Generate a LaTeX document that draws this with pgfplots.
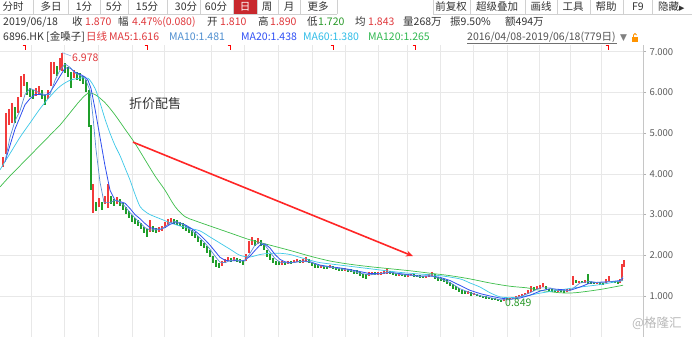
\documentclass[border=0pt]{standalone}
\usepackage{pgfplots}
\pgfplotsset{compat=1.18}
\usepackage{pgfplotstable}
\usetikzlibrary{arrows.meta}
\usepackage{fontspec}
\setmainfont{Noto Sans CJK SC}
\newfontfamily\dejavu{DejaVu Sans}
\definecolor{upred}{HTML}{F23B3B}
\definecolor{dngreen}{HTML}{1F9E2A}
\definecolor{valred}{HTML}{E0383C}
\definecolor{valgreen}{HTML}{2A9A2A}
\definecolor{ma10c}{HTML}{5B8FD6}
\definecolor{ma20c}{HTML}{2F4FF0}
\definecolor{ma60c}{HTML}{3CC8E8}
\definecolor{ma120c}{HTML}{3DBE4A}
\definecolor{ma10t}{HTML}{4F8FD0}
\definecolor{ma20t}{HTML}{3050F5}
\definecolor{ma60t}{HTML}{30BDE8}
\definecolor{ma120t}{HTML}{30B850}
\definecolor{txt}{HTML}{333333}
\definecolor{gridc}{HTML}{E8E8E8}
\definecolor{sepc}{HTML}{D0D0D0}
\definecolor{btnred}{HTML}{C8282D}
\def\hf{\fontsize{10.5bp}{12bp}\selectfont}
\newcommand\hdr[4]{\node[anchor=base west,inner sep=0pt,text=#3,font=\hf] at (#1bp,#2bp) {#4};}
\pgfdeclareplotmark{corner}{\pgfpathmoveto{\pgfqpoint{-2.5bp}{2bp}}\pgfpathlineto{\pgfqpoint{0.5bp}{2bp}}\pgfpathlineto{\pgfqpoint{0.5bp}{-2.5bp}}\pgfusepathqstroke}

\pgfplotstableread{
x c e
3 4.3 0.12
6 5.0 0.5
9 5.4 0.2
12 5.5 0.25
18 5.7 0.2
21 6.15 0.25
24 6.3 0.15
36 6.02 0.1
39 6.05 0.1
48 5.95 0.12
51 6.45 0.3
54 6.6 0.15
60 6.7 0.15
62 6.75 0.23
74 6.45 0.1
93 3.4 0.35
99 3.3 0.12
105 3.35 0.1
108 3.45 0.3
117 3.35 0.08
150 2.72 0.15
159 2.63 0.06
162 2.66 0.06
165 2.74 0.07
168 2.82 0.07
171 2.85 0.06
222 1.8 0.06
225 1.86 0.06
228 1.9 0.05
234 1.9 0.05
246 1.95 0.08
249 2.2 0.15
252 2.35 0.1
258 2.35 0.07
282 1.82 0.05
288 1.83 0.04
294 1.85 0.04
297 1.87 0.04
303 1.86 0.04
306 1.9 0.06
321 1.72 0.04
330 1.72 0.04
345 1.65 0.04
369 1.55 0.05
372 1.56 0.04
378 1.55 0.04
381 1.56 0.04
384 1.58 0.04
387 1.62 0.08
399 1.53 0.04
408 1.5 0.03
411 1.52 0.03
426 1.47 0.03
429 1.5 0.04
432 1.54 0.05
468 1.08 0.04
474 1.05 0.03
504 0.9 0.03
507 0.92 0.03
510 0.93 0.03
513 0.95 0.03
516 0.97 0.03
519 1.0 0.03
522 1.03 0.03
525 1.05 0.03
528 1.1 0.04
531 1.18 0.07
537 1.2 0.04
540 1.22 0.04
543 1.27 0.05
558 1.12 0.03
567 1.13 0.03
570 1.15 0.03
573 1.38 0.12
579 1.35 0.03
585 1.36 0.03
597 1.32 0.03
606 1.38 0.05
609 1.42 0.06
620 1.38 0.05
622 1.58 0.2
624 1.8 0.085
}\redtab

\pgfplotstableread{
x c e
15 5.45 0.2
27 6.1 0.15
30 6.0 0.12
33 5.95 0.12
42 5.95 0.1
45 5.82 0.12
57 6.52 0.12
65 6.6 0.12
68 6.5 0.12
71 6.3 0.2
77 6.4 0.1
80 6.38 0.1
83 6.3 0.1
86 6.15 0.15
89 5.6 0.45
91 4.4 0.8
96 3.2 0.12
102 3.22 0.1
111 3.35 0.1
114 3.3 0.08
120 3.3 0.08
123 3.2 0.08
126 3.1 0.08
129 3.0 0.08
132 2.9 0.08
135 2.85 0.07
138 2.8 0.07
141 2.72 0.07
144 2.62 0.08
147 2.55 0.1
153 2.65 0.07
156 2.62 0.06
174 2.82 0.06
177 2.8 0.06
180 2.77 0.06
183 2.72 0.07
186 2.67 0.07
189 2.62 0.07
192 2.55 0.08
195 2.5 0.07
198 2.4 0.08
201 2.3 0.08
204 2.24 0.07
207 2.14 0.08
210 2.04 0.08
213 1.9 0.09
216 1.8 0.08
219 1.75 0.07
231 1.88 0.05
237 1.88 0.05
240 1.85 0.05
243 1.82 0.05
255 2.3 0.08
261 2.3 0.07
264 2.2 0.08
267 2.05 0.08
270 1.95 0.07
273 1.88 0.06
276 1.82 0.05
279 1.8 0.05
285 1.8 0.04
291 1.82 0.04
300 1.85 0.04
309 1.85 0.05
312 1.78 0.05
315 1.75 0.05
318 1.72 0.04
324 1.7 0.04
327 1.7 0.04
333 1.7 0.04
336 1.68 0.04
339 1.66 0.04
342 1.65 0.04
348 1.63 0.04
351 1.62 0.04
354 1.6 0.05
357 1.58 0.05
360 1.55 0.05
363 1.5 0.05
366 1.48 0.05
375 1.55 0.04
390 1.57 0.04
393 1.55 0.04
396 1.52 0.04
402 1.52 0.03
405 1.5 0.03
414 1.5 0.03
417 1.49 0.03
420 1.48 0.03
423 1.47 0.03
435 1.48 0.05
438 1.42 0.05
441 1.4 0.04
444 1.38 0.04
447 1.35 0.05
450 1.3 0.05
453 1.24 0.06
456 1.2 0.05
459 1.14 0.05
462 1.1 0.04
465 1.08 0.04
471 1.05 0.04
477 1.02 0.03
480 1.0 0.03
483 0.98 0.03
486 0.96 0.03
489 0.95 0.03
492 0.93 0.03
495 0.92 0.03
498 0.9 0.03
501 0.88 0.03
534 1.17 0.04
546 1.2 0.04
549 1.15 0.03
552 1.14 0.03
555 1.12 0.03
561 1.12 0.03
564 1.11 0.03
576 1.35 0.04
582 1.34 0.03
588 1.42 0.12
591 1.33 0.03
594 1.32 0.03
600 1.31 0.03
603 1.3 0.03
612 1.35 0.03
615 1.34 0.03
618 1.32 0.03
}\greentab

\begin{document}
\begin{tikzpicture}
\fill[white] (0,0) rectangle (692bp,337bp);
\begin{axis}[
  at={(0,0)}, anchor=south west,
  scale only axis, width=643bp, height=292bp,
  xmin=0, xmax=643, ymin=-0.007, ymax=7.167,
  axis line style={draw=none},
  xtick={31,64,98,132,164,211,244,278,312,345,378,407,440,473,507,539,570,601},
  xticklabels={}, xtick style={draw=none},
  ytick={1,2,3,4,5,6,7}, ytick pos=right, yticklabel pos=right,
  yticklabel style={font=\fontsize{9.5bp}{11bp}\selectfont, text=txt!80, xshift=0bp,
    /pgf/number format/.cd, fixed, fixed zerofill, precision=3, assume math mode=true},
  ytick style={draw=gray!60, line width=0.6bp},
  tick align=outside, major tick length=3bp,
  grid=major, grid style={gridc, line width=0.6bp},
]
% candles
\addplot[draw=none, mark=none, forget plot, error bars/.cd, y dir=both, y explicit, error mark=none,
  error bar style={upred, line width=1.5bp}] table[x=x, y=c, y error=e] {\redtab};
\addplot[draw=none, mark=none, forget plot, error bars/.cd, y dir=both, y explicit, error mark=none,
  error bar style={dngreen, line width=1.5bp}] table[x=x, y=c, y error=e] {\greentab};
% MA120
\addplot[ma120c, line width=0.7bp, smooth, mark=none] coordinates {
(0,3.68)(10,3.95)(20,4.2)(30,4.45)(40,4.7)(50,4.95)(60,5.2)(70,5.5)(80,5.8)(88,5.98)(95,5.95)
(105,5.75)(115,5.45)(125,5.1)(135,4.75)(145,4.35)(155,3.95)(165,3.6)(175,3.2)(185,2.95)(195,2.85)
(210,2.72)(230,2.55)(250,2.38)(270,2.25)(290,2.12)(310,1.98)(330,1.86)(350,1.78)(370,1.72)(390,1.67)
(410,1.62)(430,1.56)(450,1.5)(470,1.42)(490,1.32)(510,1.24)(527,1.2)(540,1.14)(560,1.08)(575,1.08)
(600,1.16)(623,1.265)};
% MA60
\addplot[ma60c, line width=0.7bp, smooth, mark=none] coordinates {
(0,4.1)(10,4.5)(20,4.9)(30,5.25)(40,5.6)(50,5.9)(60,6.15)(70,6.3)(80,6.35)(88,6.35)(95,6.1)
(100,5.75)(105,5.35)(110,5.0)(115,4.7)(120,4.45)(125,4.15)(130,3.85)(135,3.5)(140,3.2)(145,3.08)
(150,3.0)(160,2.9)(170,2.8)(180,2.72)(190,2.66)(200,2.6)(210,2.45)(220,2.3)(230,2.15)(240,2.0)
(250,1.96)(260,2.02)(270,2.05)(280,2.05)(290,2.02)(300,1.95)(310,1.88)(320,1.82)(340,1.76)(360,1.7)
(380,1.64)(400,1.58)(420,1.54)(440,1.5)(460,1.42)(470,1.32)(480,1.22)(490,1.08)(500,0.98)(510,0.96)
(520,0.98)(530,1.02)(540,1.07)(560,1.15)(580,1.22)(600,1.28)(623,1.38)};
% MA20
\addplot[ma20c, line width=0.8bp, mark=none] coordinates {
(5,4.3)(10,4.7)(15,5.1)(20,5.4)(25,5.7)(30,5.85)(35,5.95)(40,5.95)(45,5.93)(50,6.0)(55,6.2)(60,6.4)
(65,6.6)(70,6.6)(75,6.5)(80,6.45)(85,6.38)(88,6.3)(91,6.1)(95,5.6)(100,4.9)(105,4.2)(110,3.6)(115,3.35)
(120,3.32)(125,3.28)(130,3.15)(135,3.0)(140,2.9)(145,2.78)(150,2.68)(155,2.65)(160,2.64)(165,2.68)
(170,2.76)(175,2.8)(180,2.79)(185,2.75)(190,2.68)(195,2.6)(200,2.5)(205,2.38)(210,2.25)(215,2.1)
(220,1.95)(225,1.88)(230,1.86)(235,1.87)(240,1.86)(245,1.88)(250,1.98)(255,2.12)(260,2.25)(265,2.28)
(270,2.18)(275,2.02)(280,1.9)(285,1.84)(290,1.82)(295,1.83)(300,1.85)(305,1.86)(310,1.84)(315,1.8)
(320,1.76)(330,1.72)(340,1.69)(350,1.65)(360,1.6)(370,1.55)(380,1.55)(390,1.58)(400,1.55)(410,1.52)
(420,1.49)(430,1.49)(440,1.46)(450,1.38)(460,1.26)(470,1.14)(480,1.06)(490,1.0)(500,0.95)(510,0.92)
(520,0.95)(530,1.02)(540,1.12)(550,1.18)(560,1.16)(570,1.14)(580,1.22)(590,1.32)(600,1.34)(610,1.35)
(620,1.38)(623,1.438)};
% MA10
\addplot[ma10c, line width=0.7bp, mark=none] coordinates {
(5,4.3)(10,4.9)(15,5.3)(20,5.55)(25,5.95)(30,6.1)(35,6.05)(40,5.98)(45,5.95)(50,5.95)(55,6.3)(60,6.55)
(65,6.7)(70,6.62)(75,6.48)(80,6.42)(85,6.35)(90,6.05)(93,5.4)(96,4.6)(100,3.8)(104,3.3)(110,3.3)
(115,3.35)(120,3.32)(125,3.2)(130,3.05)(135,2.92)(140,2.8)(145,2.68)(150,2.62)(155,2.63)(160,2.63)
(165,2.7)(170,2.8)(175,2.83)(180,2.8)(185,2.73)(190,2.63)(195,2.55)(200,2.42)(205,2.3)(210,2.15)
(215,1.98)(220,1.83)(225,1.82)(230,1.87)(235,1.89)(240,1.87)(245,1.86)(250,2.05)(255,2.25)(260,2.32)
(265,2.25)(270,2.08)(275,1.92)(280,1.83)(290,1.81)(300,1.85)(310,1.84)(320,1.74)(330,1.71)(340,1.67)
(350,1.63)(360,1.56)(370,1.52)(380,1.55)(390,1.59)(400,1.53)(410,1.51)(420,1.48)(430,1.5)(440,1.43)
(450,1.33)(460,1.18)(470,1.08)(480,1.01)(490,0.96)(500,0.91)(510,0.91)(520,0.98)(530,1.08)(540,1.2)
(550,1.2)(560,1.13)(570,1.13)(580,1.32)(590,1.36)(600,1.32)(610,1.36)(620,1.36)(623,1.481)};
% event markers
\addplot[only marks, mark=corner, mark options={red, line width=0.9bp}] coordinates {
(25,7.11)(147,7.11)(230,7.11)(333,7.11)(415,7.11)(608,7.11)};
% annotations
\draw[color=ma10c!70, line width=0.6bp] (axis cs:62,6.98) -- (axis cs:71,6.9);
\node[anchor=west, inner sep=0pt, text=valred, font=\fontsize{10.5bp}{12bp}\selectfont] at (axis cs:72,6.86) {6.978};
\node[anchor=west, inner sep=0pt, text=valgreen, font=\fontsize{10.5bp}{12bp}\selectfont] at (axis cs:505,0.83) {0.849};
\node[anchor=west, inner sep=0pt, text=txt, font=\fontsize{13bp}{15bp}\selectfont] at (axis cs:129,5.72) {折价配售};
\draw[red!85!white, line width=1.6bp, -{Stealth[length=7bp,width=6bp]}] (axis cs:133,4.78) -- (axis cs:413,1.98);
\end{axis}
% right axis line
\draw[gray!45, line width=0.7bp] (643bp,0) -- (643bp,292bp);
% toolbar
\fill[btnred] (233bp,323bp) rectangle (257bp,337bp);
\draw[sepc, line width=0.6bp] (0,323bp) -- (337bp,323bp);
\draw[sepc, line width=0.6bp] (433bp,323bp) -- (692bp,323bp);
\foreach \s in {33,68,100,128,167,200,233,257,278,300,337,433,470,525,557,590,623,652}
  \draw[sepc, line width=0.6bp] (\s bp,323bp) -- (\s bp,337bp);
\foreach \t/\xx in {分时/13,多日/51,1分/84,5分/114,15分/147,30分/186,60分/216,周/267,月/289,更多/318,前复权/451,超级叠加/497,画线/541,工具/573,帮助/606,F9/638}
  \node[anchor=base, inner sep=0pt, text=txt, font=\hf] at (\xx bp,326bp) {\t};
\node[anchor=base, inner sep=0pt, text=white, font=\hf] at (245bp,326bp) {日};
\node[anchor=base west, inner sep=0pt, text=txt, font=\hf] at (658bp,326bp) {隐藏{\dejavu\fontsize{7bp}{8bp}\selectfont ▶}};
% info row
\hdr{3}{311}{txt}{2019/06/18}
\hdr{72}{311}{txt}{收}
\hdr{85}{311}{valred}{1.870}
\hdr{118}{311}{txt}{幅}
\hdr{132}{311}{valred}{4.47\%(0.080)}
\hdr{207}{311}{txt}{开}
\hdr{220}{311}{valred}{1.810}
\hdr{258}{311}{txt}{高}
\hdr{270}{311}{valred}{1.890}
\hdr{307}{311}{txt}{低}
\hdr{318}{311}{valgreen}{1.720}
\hdr{355}{311}{txt}{均}
\hdr{368}{311}{valred}{1.843}
\hdr{403}{311}{txt}{量268万}
\hdr{450}{311}{txt}{振9.50\%}
\hdr{505}{311}{txt}{额494万}
% MA row
\hdr{3}{296}{txt}{6896.HK [金嗓子]}
\hdr{86}{296}{valred}{日线}
\hdr{109}{296}{valred}{MA5:1.616}
\hdr{169}{296}{ma10t}{MA10:1.481}
\hdr{241}{296}{ma20t}{MA20:1.438}
\hdr{303}{296}{ma60t}{MA60:1.380}
\hdr{368}{296}{ma120t}{MA120:1.265}
\hdr{467}{296}{txt!85}{2016/04/08-2019/06/18(779日)}
\draw[txt!70, line width=0.5bp] (467bp,294bp) -- (617bp,294bp);
\node[anchor=base west, inner sep=0pt, text=gray, font=\dejavu\fontsize{9bp}{10bp}\selectfont] at (620bp,296bp) {▼};
\fill[orange!85!yellow] (632bp,295bp) rectangle (638bp,300bp);
\draw[orange!85!yellow, line width=0.8bp] (633.5bp,300bp) -- (633.5bp,302bp) arc (180:0:1.5bp);
% watermark
\node[anchor=base west, inner sep=0pt, text=gray!55, font=\fontsize{12.5bp}{14bp}\selectfont] at (632bp,10bp) {@格隆汇};
\pgfresetboundingbox
\useasboundingbox (0,0) rectangle (692bp,337bp);
\end{tikzpicture}
\end{document}
